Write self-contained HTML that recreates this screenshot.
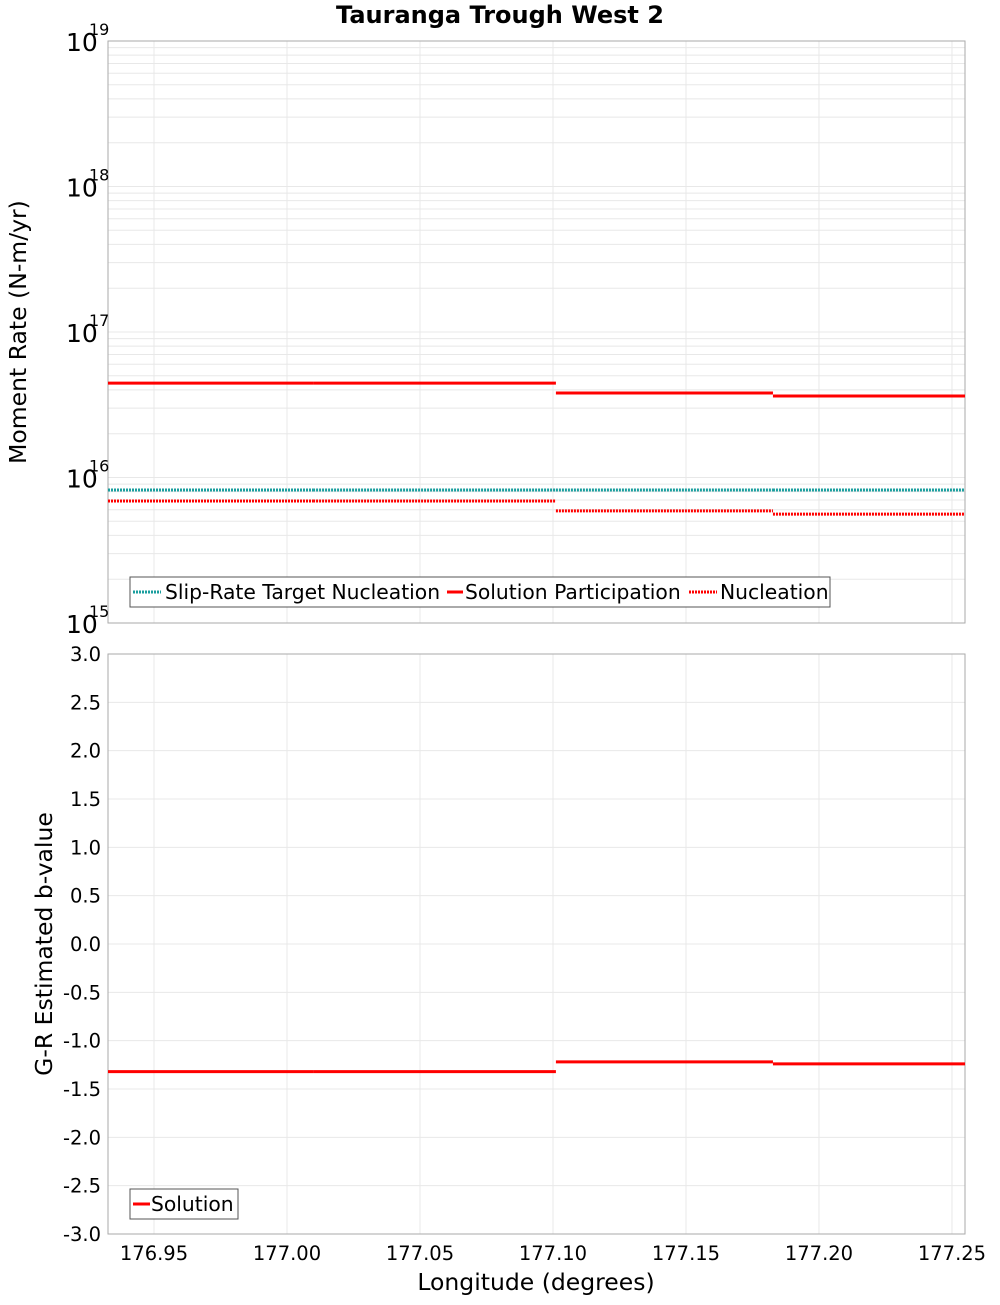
<!DOCTYPE html>
<html><head><meta charset="utf-8"><style>
body{margin:0;background:#fff;font-family:"Liberation Sans","DejaVu Sans",sans-serif}
svg text{font-family:"DejaVu Sans","Liberation Sans",sans-serif}
</style></head><body>
<svg id="chart" width="1000" height="1300" xmlns="http://www.w3.org/2000/svg"></svg>
<script>
const segStarts=[176.9327,177.0098,177.1011,177.1827];
const segEnds=[177.0098,177.1011,177.1827,177.2549];
const participation=[4.45e16,4.45e16,3.81e16,3.63e16];
const nucleation=[6.9e15,6.9e15,5.9e15,5.6e15];
const targetNucleation=[8.2e15,8.2e15,8.2e15,8.2e15];
const bValues=[-1.32,-1.32,-1.22,-1.24];
const xTicks=[176.95,177.00,177.05,177.10,177.15,177.20,177.25];
const bTicks=[3,2.5,2,1.5,1,0.5,0,-0.5,-1,-1.5,-2,-2.5,-3];
const decades=[15,16,17,18,19];

const svg=document.getElementById('chart');
const NS='http://www.w3.org/2000/svg';
const L=108,R=965,T1=41,B1=623,T2=654,B2=1234;
const xMin=176.9327,xMax=177.2549;
const X=v=>L+(v-xMin)/(xMax-xMin)*(R-L);
const Y1=v=>B1-(Math.log10(v)-15)/4*(B1-T1);
const Y2=v=>B2-(v+3)/6*(B2-T2);
function el(tag,attrs,parent){const e=document.createElementNS(NS,tag);for(const k in attrs)e.setAttribute(k,attrs[k]);(parent||svg).appendChild(e);return e;}
function txt(s,attrs){const e=el('text',attrs);e.textContent=s;return e;}

let t=txt('Tauranga Trough West 2',{x:500,y:23,'text-anchor':'middle','font-size':24,'font-weight':'bold'});


const g1=el('g',{});
for(let d=15;d<19;d++)for(let m=1;m<10;m++){const y=Y1(m*Math.pow(10,d));el('line',{x1:L,x2:R,y1:y,y2:y,stroke:'#e8e8e8','stroke-width':1},g1);}
xTicks.forEach(v=>{el('line',{x1:X(v),x2:X(v),y1:T1,y2:B1,stroke:'#e8e8e8'},g1);el('line',{x1:X(v),x2:X(v),y1:T2,y2:B2,stroke:'#e8e8e8'});});
bTicks.forEach(v=>el('line',{x1:L,x2:R,y1:Y2(v),y2:Y2(v),stroke:'#e8e8e8'}));
let r1=el('rect',{x:L,y:T1,width:R-L,height:B1-T1,fill:'none',stroke:'#aaa'});

let r2=el('rect',{x:L,y:T2,width:R-L,height:B2-T2,fill:'none',stroke:'#aaa'});


decades.forEach(d=>{const y=Y1(Math.pow(10,d));
 const a=txt('10',{x:66,y:y+10,'font-size':25});
 const b=txt(String(d),{x:89,y:y-6,'font-size':16});});
let yt1=txt('Moment Rate (N-m/yr)',{x:0,y:0,transform:'translate(26,332) rotate(-90)','text-anchor':'middle','font-size':23.5});


bTicks.forEach(v=>{const a=txt(v.toFixed(1),{x:101,y:Y2(v)+7,'text-anchor':'end','font-size':19.5});});
let yt2=txt('G-R Estimated b-value',{x:0,y:0,transform:'translate(52,944) rotate(-90)','text-anchor':'middle','font-size':23.5});


xTicks.forEach(v=>{const a=txt(v.toFixed(2),{x:X(v),y:1260,'text-anchor':'middle','font-size':19.5});});
let xt=txt('Longitude (degrees)',{x:536,y:1290,'text-anchor':'middle','font-size':23.5});


function steps(arr,Y,color,dash,name){
 arr.forEach((v,i)=>{const l=el('line',{x1:X(segStarts[i]),x2:X(segEnds[i]),y1:Y(v),y2:Y(v),stroke:color,'stroke-width':3});
  if(dash)l.setAttribute('stroke-dasharray',dash);
  
  });
}
steps(targetNucleation,Y1,'#1a9e9e','2,1','target-nucleation-segment');
steps(participation,Y1,'#ff0000',null,'participation-segment');
steps(nucleation,Y1,'#ff0000','2,1','nucleation-segment');
steps(bValues,Y2,'#ff0000',null,'bvalue-segment');

let lg=el('rect',{x:130,y:577,width:700,height:30,fill:'#fff',stroke:'#555'});

[[133,28,165,'#1a9e9e','2,1','Slip-Rate Target Nucleation'],[447,16,465,'#ff0000',null,'Solution Participation'],[689,28,720,'#ff0000','2,1','Nucleation']].forEach(([x,w,tx,c,d,s])=>{
 const l=el('line',{x1:x,x2:x+w,y1:592,y2:592,stroke:c,'stroke-width':3});if(d)l.setAttribute('stroke-dasharray',d);
 
 const tt=txt(s,{x:tx,y:599,'font-size':20.3});});
let lg2=el('rect',{x:130,y:1189,width:108,height:30,fill:'#fff',stroke:'#555'});

let sl=el('line',{x1:133,x2:150,y1:1204,y2:1204,stroke:'#ff0000','stroke-width':3});

let st=txt('Solution',{x:151,y:1211,'font-size':20.3});
</script>
</body></html>
